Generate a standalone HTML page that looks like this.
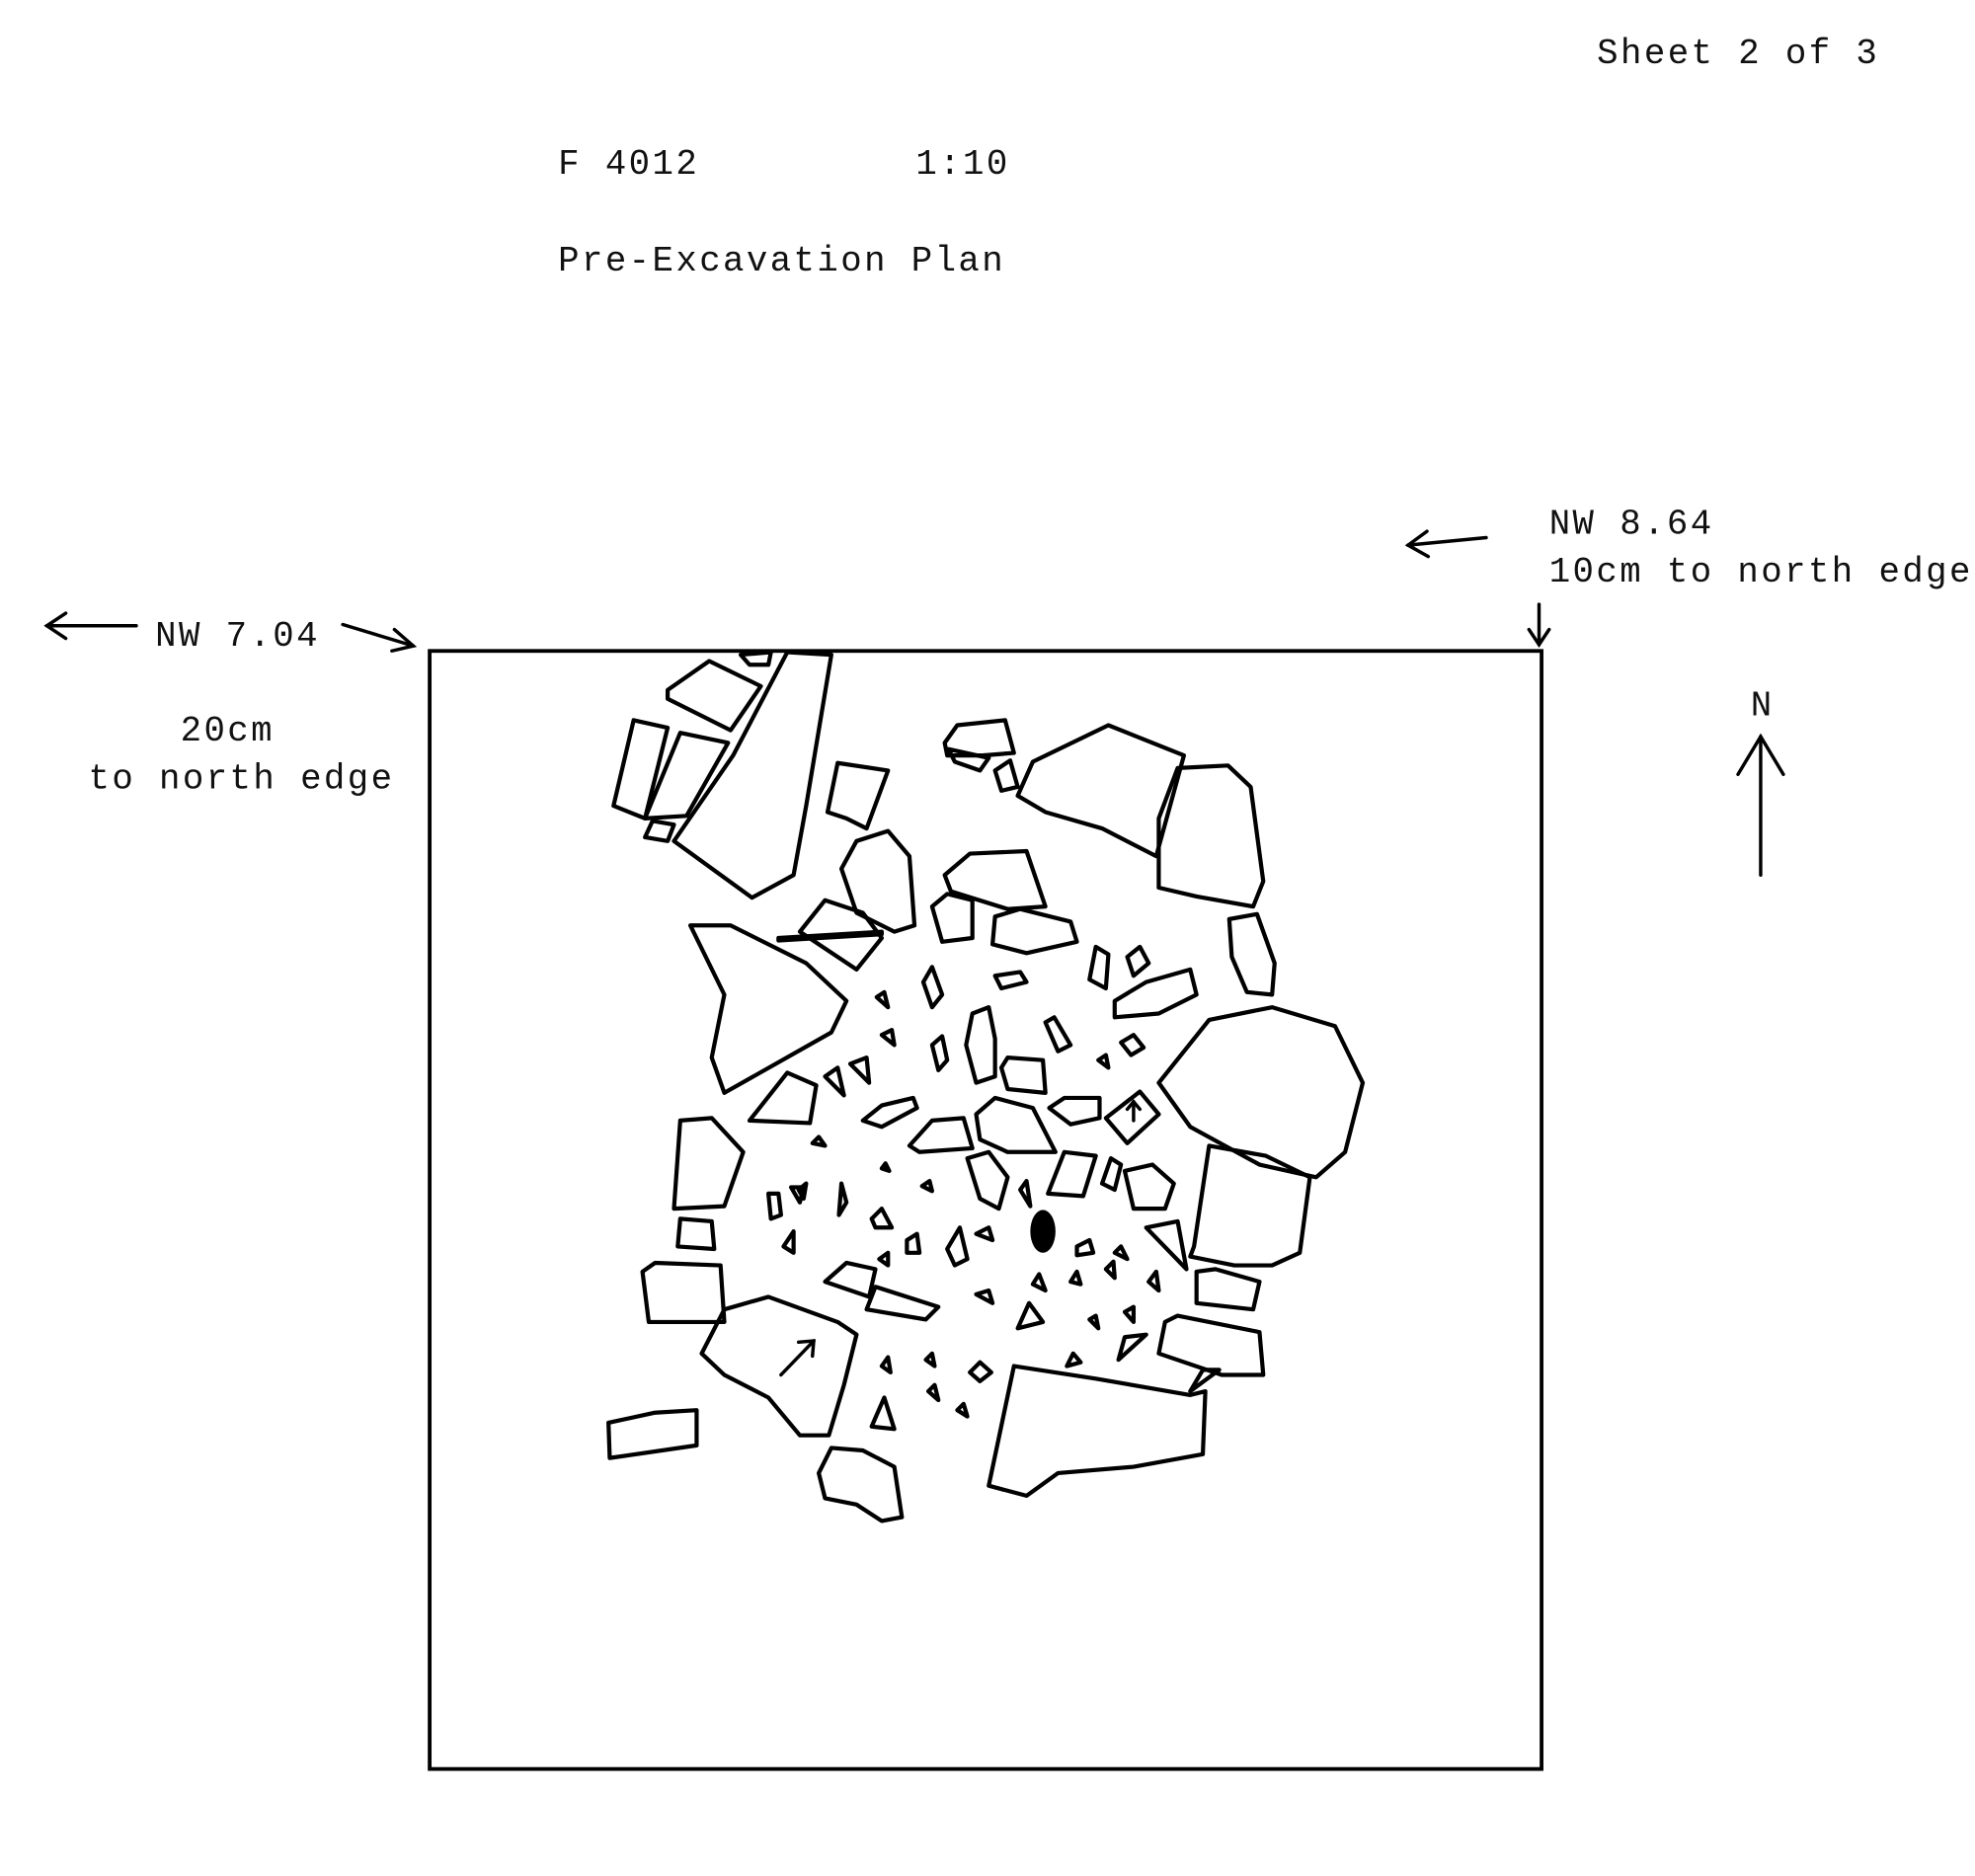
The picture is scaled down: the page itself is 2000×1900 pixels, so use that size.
<!DOCTYPE html>
<html><head><meta charset="utf-8"><style>
html,body{margin:0;padding:0;background:#fff;}
svg{display:block;}
text{font-family:"Liberation Mono",monospace;font-size:28px;letter-spacing:1.9px;fill:#111;}
.s polygon{fill:none;stroke:#000;stroke-width:3.3;stroke-linejoin:round;}
line,path{stroke:#000;stroke-width:2.7;fill:none;stroke-linecap:round;}
</style></head><body>
<svg width="2000" height="1900" viewBox="0 0 1568 1490" xmlns="http://www.w3.org/2000/svg">
<rect width="1568" height="1490" fill="#fff"/>
<text x="1268" y="50">Sheet 2 of 3</text>
<text x="443" y="138">F 4012</text>
<text x="727" y="138">1:10</text>
<text x="443" y="215">Pre-Excavation Plan</text>
<text x="123" y="513">NW 7.04</text>
<text x="143" y="588">20cm</text>
<text x="70" y="626">to north edge</text>
<text x="1230" y="424">NW 8.64</text>
<text x="1230" y="462">10cm to north edge</text>
<text x="1390" y="568">N</text>
<line x1="37" y1="497" x2="108" y2="497"/><path d="M52 487 L37 497 L52 507"/>
<line x1="272" y1="496" x2="328" y2="513"/><path d="M313 500 L328 513 L311 517"/>
<line x1="1180" y1="427" x2="1118" y2="433"/><path d="M1133 422 L1118 433 L1134 442"/>
<line x1="1222" y1="480" x2="1222" y2="512"/><path d="M1214 500 L1222 512 L1230 500"/>
<line x1="1398" y1="695" x2="1398" y2="585"/><path d="M1380 615 L1398 585 L1416 615"/>
<rect x="341" y="517" width="883" height="888" fill="none" stroke="#000" stroke-width="3"/>
<g class="s">
<polygon points="530,548 563,525 604,545 580,580 530,555"/>
<polygon points="588,520 612,518 610,528 595,528"/>
<polygon points="487,640 503,572 530,578 512,650"/>
<polygon points="512,650 540,582 578,590 545,648"/>
<polygon points="512,665 518,652 535,655 530,668"/>
<polygon points="535,668 582,600 625,518 660,520 640,640 630,695 597,713"/>
<polygon points="657,645 665,606 705,612 688,658 672,650"/>
<polygon points="750,590 760,576 798,572 805,598 780,600 752,600"/>
<polygon points="753,595 785,602 778,612 758,605"/>
<polygon points="790,612 802,604 808,625 795,628"/>
<polygon points="808,632 820,605 880,576 940,600 918,680 875,658 830,645"/>
<polygon points="920,650 935,610 975,608 993,625 1003,700 995,720 950,712 920,705"/>
<polygon points="668,690 680,668 705,660 722,680 726,735 710,740 680,725"/>
<polygon points="635,740 655,715 685,725 700,745 680,770"/>
<polygon points="618,745 700,740 700,742 618,747"/>
<polygon points="548,735 580,735 640,765 672,795 660,820 575,868 565,840 575,790"/>
<polygon points="750,695 770,678 815,676 830,720 800,722 755,708"/>
<polygon points="740,720 752,710 772,715 772,745 748,748"/>
<polygon points="790,728 810,722 850,732 855,748 815,757 788,750"/>
<polygon points="790,775 810,772 815,780 795,785"/>
<polygon points="733,780 740,768 748,790 740,800"/>
<polygon points="976,730 998,726 1012,765 1010,790 990,788 978,760"/>
<polygon points="865,778 870,752 880,758 878,785"/>
<polygon points="895,760 905,752 912,765 900,775"/>
<polygon points="885,795 910,780 945,770 950,790 920,805 885,808"/>
<polygon points="920,860 960,810 1010,800 1060,815 1082,860 1068,915 1045,935 1000,925 945,895"/>
<polygon points="696,792 702,788 705,800"/>
<polygon points="767,830 772,805 785,800 790,825 790,855 775,860"/>
<polygon points="740,830 748,823 752,842 745,850"/>
<polygon points="700,822 708,818 710,830"/>
<polygon points="830,812 837,808 850,830 840,835"/>
<polygon points="890,828 900,822 908,832 898,838"/>
<polygon points="872,842 878,838 880,848"/>
<polygon points="655,855 665,848 670,870"/>
<polygon points="675,845 688,840 690,860"/>
<polygon points="795,848 800,840 828,842 830,868 800,865"/>
<polygon points="595,890 625,852 648,862 643,892"/>
<polygon points="685,890 700,878 725,872 728,880 700,895"/>
<polygon points="722,910 740,890 765,888 772,912 730,915"/>
<polygon points="775,885 790,872 820,880 838,915 800,915 778,905"/>
<polygon points="833,880 845,872 873,872 873,888 850,893"/>
<polygon points="878,888 905,867 920,885 895,908"/>
<polygon points="948,990 960,910 1005,918 1040,935 1032,995 1010,1005 980,1005 945,998"/>
<polygon points="540,890 565,888 590,915 575,958 535,960"/>
<polygon points="645,908 650,903 655,910"/>
<polygon points="700,928 703,924 706,930"/>
<polygon points="768,920 785,915 800,935 793,960 778,952"/>
<polygon points="832,948 845,915 870,918 860,950"/>
<polygon points="875,940 882,920 890,925 885,945"/>
<polygon points="893,930 915,925 932,940 925,960 900,960"/>
<polygon points="634,945 640,940 638,952"/>
<polygon points="668,940 672,955 666,965"/>
<polygon points="610,948 618,948 620,965 612,968"/>
<polygon points="628,943 638,943 635,955"/>
<polygon points="732,942 738,938 740,946"/>
<polygon points="810,945 815,938 818,958"/>
<polygon points="692,968 700,960 708,975 695,975"/>
<polygon points="720,985 728,980 730,995 720,995"/>
<polygon points="752,992 762,975 768,1000 758,1005"/>
<polygon points="775,980 785,975 788,985"/>
<polygon points="910,975 935,970 942,1008"/>
<polygon points="540,968 565,970 567,992 538,990"/>
<polygon points="855,990 865,985 868,995 855,997"/>
<polygon points="885,995 890,990 895,1000"/>
<polygon points="622,990 630,978 630,995"/>
<polygon points="510,1010 520,1003 572,1005 575,1050 515,1050"/>
<polygon points="950,1010 965,1008 1000,1018 995,1040 950,1035"/>
<polygon points="655,1018 672,1003 695,1008 690,1030"/>
<polygon points="688,1040 695,1022 745,1038 735,1048"/>
<polygon points="698,1000 705,995 705,1005"/>
<polygon points="820,1020 825,1012 830,1025"/>
<polygon points="850,1018 855,1010 858,1020"/>
<polygon points="878,1008 884,1002 885,1015"/>
<polygon points="912,1018 918,1010 920,1025"/>
<polygon points="808,1055 817,1035 828,1050"/>
<polygon points="775,1028 785,1025 788,1035"/>
<polygon points="865,1048 870,1045 872,1055"/>
<polygon points="893,1042 900,1038 900,1050"/>
<polygon points="557,1075 575,1040 610,1030 665,1050 680,1060 670,1100 658,1140 635,1140 610,1110 575,1092"/>
<polygon points="925,1050 935,1045 1000,1058 1003,1092 970,1092 920,1075"/>
<polygon points="888,1080 893,1062 910,1060"/>
<polygon points="847,1085 852,1075 858,1082"/>
<polygon points="700,1085 705,1078 707,1090"/>
<polygon points="735,1080 740,1075 742,1085"/>
<polygon points="770,1090 778,1082 787,1090 778,1097"/>
<polygon points="785,1180 805,1085 870,1095 945,1108 957,1105 955,1155 900,1165 840,1170 815,1188"/>
<polygon points="945,1105 955,1088 968,1088"/>
<polygon points="483,1130 520,1122 553,1120 553,1148 484,1158"/>
<polygon points="692,1133 702,1110 710,1135"/>
<polygon points="737,1105 742,1100 745,1112"/>
<polygon points="760,1120 765,1115 768,1125"/>
<polygon points="650,1170 660,1150 685,1152 710,1165 716,1205 700,1208 680,1195 655,1190"/>
</g>
<ellipse cx="828" cy="978" rx="10" ry="17" fill="#000"/>
<line x1="620" y1="1092" x2="646" y2="1065"/><path d="M634 1066 L646 1065 L645 1077"/>
<line x1="900" y1="890" x2="900" y2="875"/><path d="M895 881 L900 875 L905 881"/>
</svg>
</body></html>
